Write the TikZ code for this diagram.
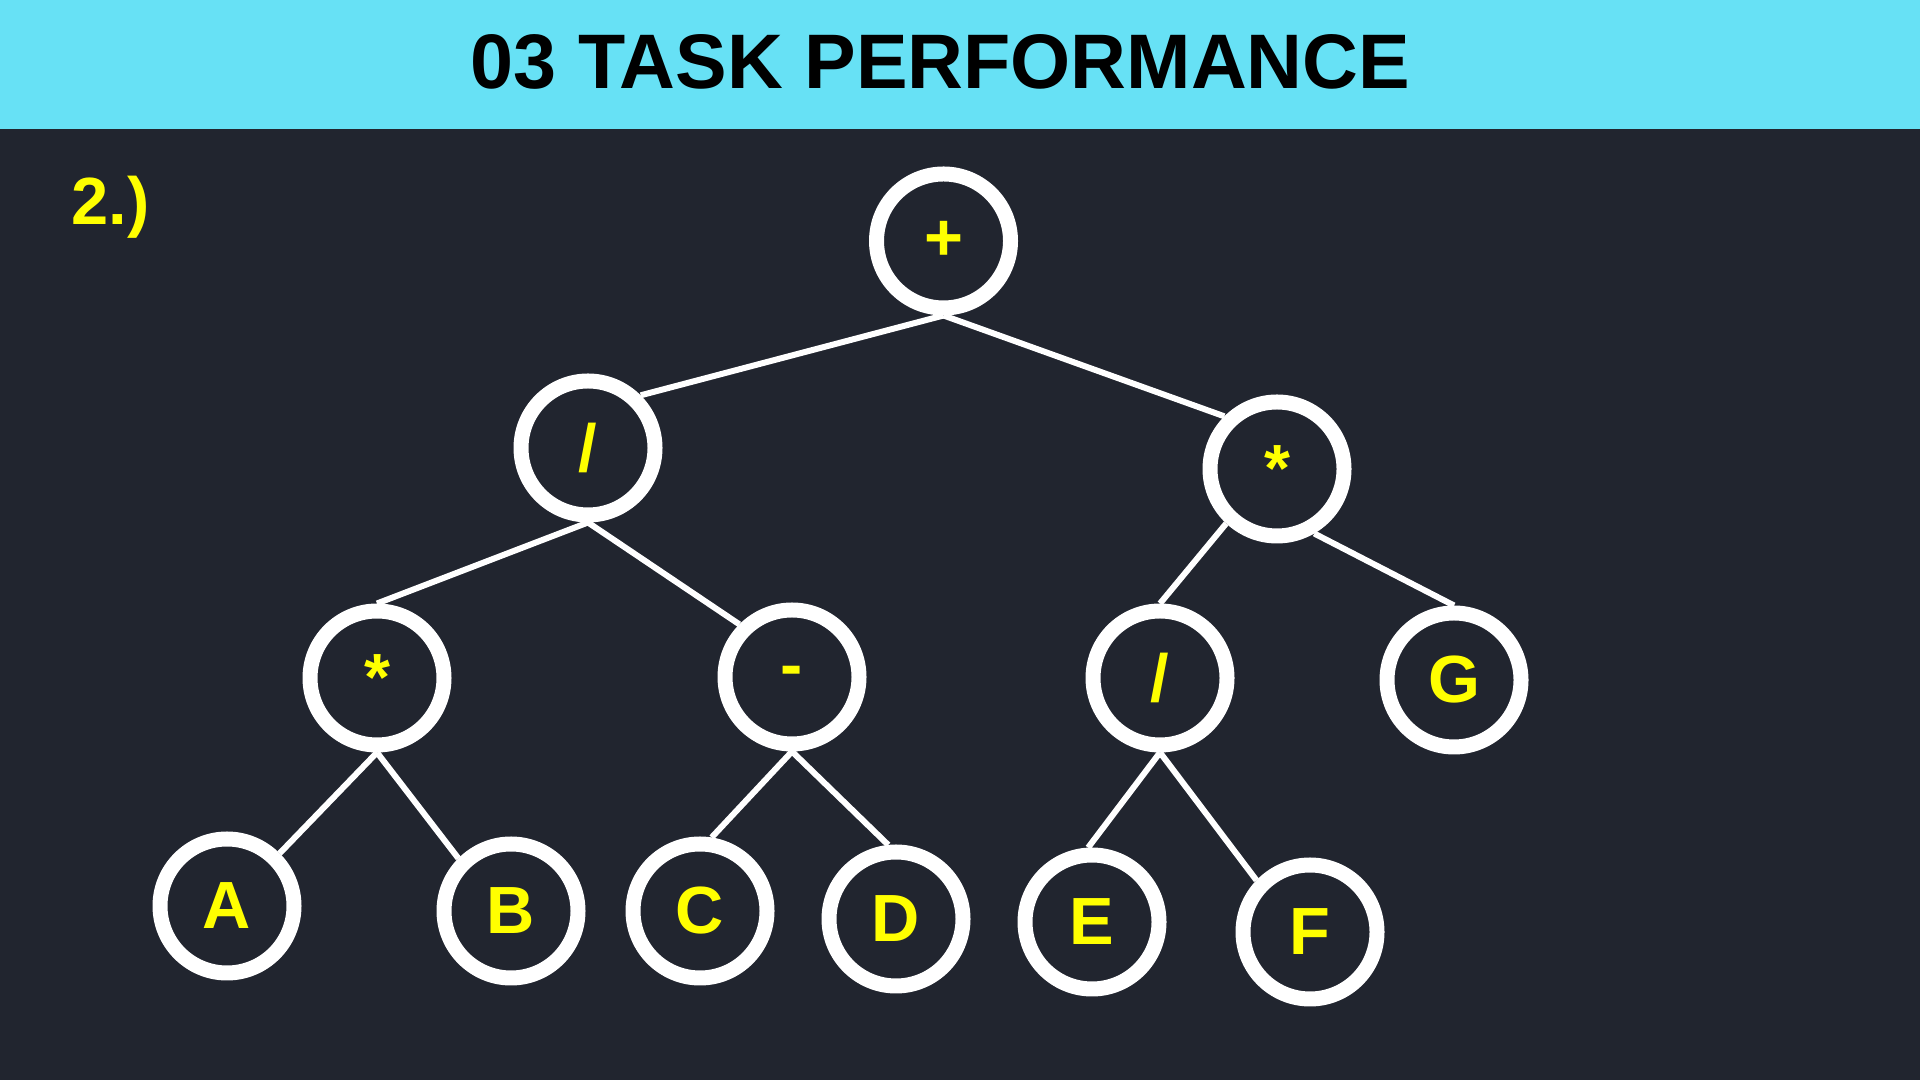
\documentclass[tikz,border=0pt]{standalone}
\usepackage{fontspec}
\setmainfont{Liberation Sans}
\usetikzlibrary{positioning}

\definecolor{bgdark}{HTML}{21252F}
\definecolor{bandcyan}{HTML}{67E1F5}
\definecolor{labyellow}{HTML}{FFFF00}

\begin{document}
\begin{tikzpicture}[
  on grid,
  every node/.style={font=\bfseries},
  op/.style={circle, draw=white, line width=0.15cm, minimum size=1.34cm,
             inner sep=0pt, text=labyellow, font=\bfseries\fontsize{19}{21}\selectfont},
  branch/.style={draw=white, line width=0.06cm},
  title/.style={text=black, font=\bfseries\fontsize{22}{26}\selectfont},
  part/.style={text=labyellow, font=\bfseries\fontsize{19}{21}\selectfont, inner sep=0pt}
]

% Canvas
\useasboundingbox (0,0) rectangle (19.2,10.8);
\fill[bgdark] (0,0) rectangle (19.2,10.8);
\fill[bandcyan] (0,9.51) rectangle (19.2,10.8);

\node[title] (head) at (9.405,10.18) {03 TASK PERFORMANCE};
\node[part, anchor=base west] (part) at (0.71,8.55) {2.)};

% Tree
\node[op] (plus) at (9.435,8.39) {+};

\node[op, below left=2.07cm and 3.555cm of plus] (div1) {/};
\node[op, below right=2.28cm and 3.335cm of plus] (mul2) {*};

\node[op, below left=2.30cm and 2.11cm of div1] (mul3) {*};
\node[op, below right=2.29cm and 2.04cm of div1] (minus) {-};
\node[op, below left=2.09cm and 1.17cm of mul2] (div2) {/};
\node[op, below right=2.11cm and 1.77cm of mul2] (G) {G};

\node[op, below left=2.28cm and 1.50cm of mul3] (A) {A};
\node[op, below right=2.33cm and 1.34cm of mul3] (B) {B};
\node[op, below left=2.34cm and 0.92cm of minus] (C) {C};
\node[op, below right=2.42cm and 1.04cm of minus] (D) {D};
\node[op, below left=2.44cm and 0.68cm of div2] (E) {E};
\node[op, below right=2.54cm and 1.50cm of div2] (F) {F};

% Branches
\draw[branch] (plus.south) -- (div1.45);
\draw[branch] (plus.south) -- (mul2.135);
\draw[branch] (div1.south) -- (mul3.north);
\draw[branch] (div1.south) -- (minus.135);
\draw[branch] (mul2.227) -- (div2.north);
\draw[branch] (mul2.300) -- (G.north);
\draw[branch] (mul3.south) -- (A.45);
\draw[branch] (mul3.south) -- (B.135);
\draw[branch] (minus.south) -- (C.81);
\draw[branch] (minus.south) -- (D.96);
\draw[branch] (div2.south) -- (E.93);
\draw[branch] (div2.south) -- (F.136);

\end{tikzpicture}
\end{document}
